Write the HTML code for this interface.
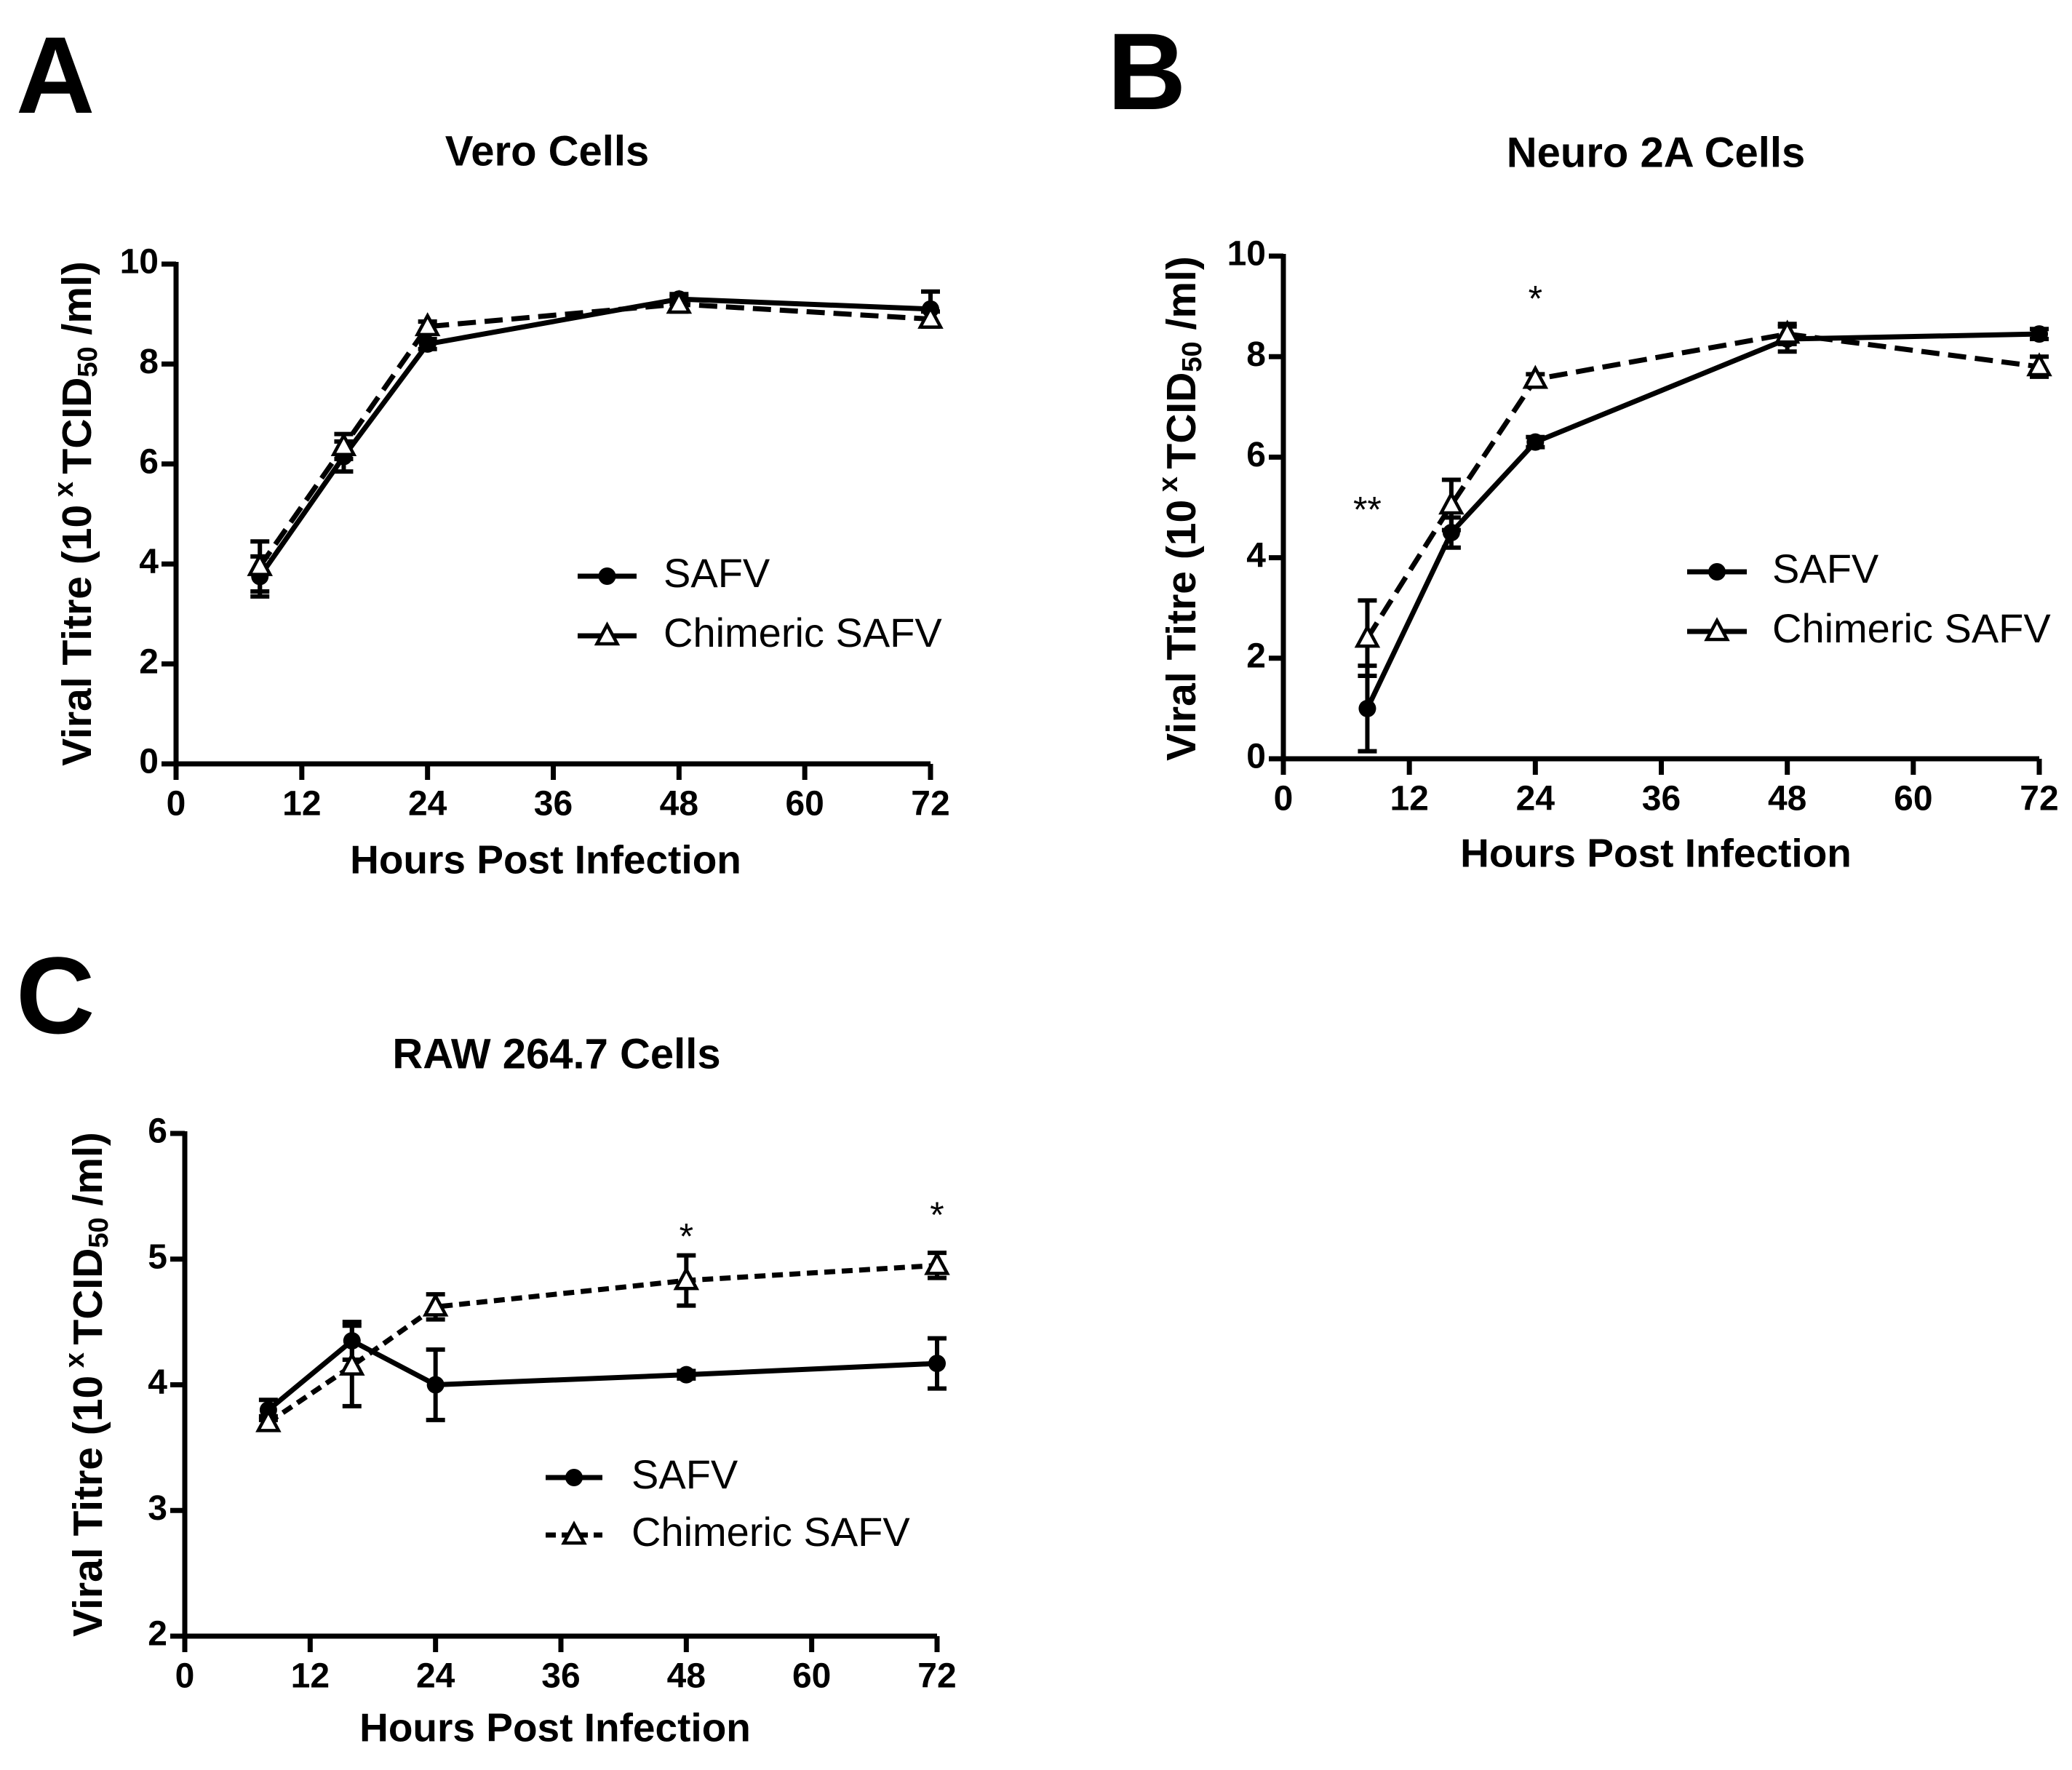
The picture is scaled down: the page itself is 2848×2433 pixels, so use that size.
<!DOCTYPE html>
<html><head><meta charset="utf-8"><style>
html,body{margin:0;padding:0;background:#fff}
svg{display:block}
text{font-family:"Liberation Sans",Arial,sans-serif;fill:#000}
</style></head>
<body>
<svg id="fig" width="2848" height="2433" viewBox="0 0 2848 2433" xmlns="http://www.w3.org/2000/svg">
<rect width="2848" height="2433" fill="#fff"/>
<text x="22" y="155" font-size="150" font-weight="bold">A</text>
<text x="1522" y="150" font-size="150" font-weight="bold">B</text>
<text x="22" y="1420" font-size="150" font-weight="bold">C</text>
</svg>
<script>
const hours = [8, 16, 24, 48, 72];
const xTicks = [0, 12, 24, 36, 48, 60, 72];
const aSafv = [3.75, 6.15, 8.4, 9.3, 9.1];
const aSafvErr = [0.4, 0.3, 0.1, 0.1, 0.35];
const aChim = [3.95, 6.35, 8.75, 9.2, 8.9];
const aChimErr = [0.5, 0.25, 0.1, 0.15, 0.15];
const aTicks = [0, 2, 4, 6, 8, 10];
const bSafv = [1.0, 4.5, 6.3, 8.35, 8.45];
const bSafvErr = [0.85, 0.3, 0.1, 0.25, 0.1];
const bChim = [2.4, 5.05, 7.55, 8.45, 7.8];
const bChimErr = [0.75, 0.5, 0.1, 0.2, 0.2];
const bTicks = [0, 2, 4, 6, 8, 10];
const bStarX = [8, 24];
const bStarY = [4.9, 9.1];
const bStarText = ["**", "*"];
const cSafv = [3.8, 4.35, 4.0, 4.08, 4.17];
const cSafvErr = [0.08, 0.15, 0.28, 0.03, 0.2];
const cChim = [3.7, 4.15, 4.62, 4.83, 4.95];
const cChimErr = [0.05, 0.32, 0.1, 0.2, 0.1];
const cTicks = [2, 3, 4, 5, 6];
const cStarX = [48, 72];
const cStarY = [5.16, 5.33];
const cStarText = ["*", "*"];

const NS = "http://www.w3.org/2000/svg";
const svg = document.getElementById("fig");
function mk(tag, attrs, parent, text) {
  const e = document.createElementNS(NS, tag);
  for (const k in attrs) e.setAttribute(k, attrs[k]);
  if (text !== undefined) e.textContent = text;
  (parent || svg).appendChild(e);
  return e;
}

function panel(p) {
  const g = mk("g", {});
  
  
  const xs = v => p.x0 + (v - 0) / 72 * (p.x1 - p.x0);
  const ys = v => p.y0 - (v - p.ymin) / (p.ymax - p.ymin) * (p.y0 - p.y1);
  const t = mk("text", {x: p.tx, y: p.ty, "font-size": 58, "font-weight": "bold", "text-anchor": "middle", "dominant-baseline": "middle"}, g, p.title);
  
  
  const ax = mk("path", {d: `M${p.x0} ${p.y1-3}V${p.y0}H${p.x1}`, stroke: "#000", "stroke-width": 7, fill: "none"}, g);
  
  
  xTicks.forEach(v => {
    mk("line", {x1: xs(v), x2: xs(v), y1: p.y0, y2: p.y0 + 22, stroke: "#000", "stroke-width": 7}, g);
    const l = mk("text", {x: xs(v), y: p.y0 + 58, "font-size": 48, "font-weight": "bold", "text-anchor": "middle", "dominant-baseline": "middle"}, g, String(v));
    
    
  });
  p.yTicks.forEach(v => {
    mk("line", {x1: p.x0 - 20, x2: p.x0, y1: ys(v), y2: ys(v), stroke: "#000", "stroke-width": 7}, g);
    const l = mk("text", {x: p.x0 - 24, y: ys(v), "font-size": 48, "font-weight": "bold", "text-anchor": "end", "dominant-baseline": "middle"}, g, String(v));
    
    
  });
  const xt = mk("text", {x: p.axtx, y: p.axty, "font-size": 55, "font-weight": "bold", "text-anchor": "middle", "dominant-baseline": "middle"}, g, "Hours Post Infection");
  
  
  const yt = mk("text", {transform: `translate(${p.aytx},${p.ayty}) rotate(-90)`, "font-size": 57, "font-weight": "bold", "text-anchor": "middle", "dominant-baseline": "middle"}, g);
  
  
  mk("tspan", {}, yt, "Viral Titre (10");
  mk("tspan", {dy: -20, "font-size": 38}, yt, " x ");
  mk("tspan", {dy: 20}, yt, " TCID");
  mk("tspan", {dy: 13, "font-size": 38}, yt, "50");
  mk("tspan", {dy: -13}, yt, " /ml)");

  const series = [
    {vals: p.safv, err: p.safvErr, dash: "none", tri: false, name: "safv"},
    {vals: p.chim, err: p.chimErr, dash: p.dash, tri: true, name: "chimeric-safv"}
  ];
  series.forEach(s => {
    const sg = mk("g", {}, g);
    
    
    const d = hours.map((h, i) => (i ? "L" : "M") + xs(h) + " " + ys(s.vals[i])).join("");
    mk("path", {d, stroke: "#000", "stroke-width": 7, fill: "none", "stroke-dasharray": s.dash}, sg);
    hours.forEach((h, i) => {
      const x = xs(h), yT = ys(s.vals[i] + s.err[i]), yB = ys(s.vals[i] - s.err[i]);
      const eb = mk("path", {d: `M${x} ${yT}V${yB}M${x-13} ${yT}H${x+13}M${x-13} ${yB}H${x+13}`, stroke: "#000", "stroke-width": 6, fill: "none"}, sg);
      
      
      const y = ys(s.vals[i]);
      let m;
      if (s.tri) m = mk("path", {d: `M${x} ${y-15}L${x+14} ${y+11}L${x-14} ${y+11}Z`, fill: "#fff", stroke: "#000", "stroke-width": 4.5}, sg);
      else m = mk("circle", {cx: x, cy: y, r: 12, fill: "#000"}, sg);
      
      
    });
  });
  (p.starX || []).forEach((h, i) => {
    const st = mk("text", {x: xs(h), y: ys(p.starY[i]), "font-size": 50, "text-anchor": "middle", "dominant-baseline": "middle"}, g, p.starText[i]);
    
    
  });
  const lg = mk("g", {}, g);
  
  
  [["SAFV", false], ["Chimeric SAFV", true]].forEach((e, i) => {
    const y = p.ly[i];
    const eg = mk("g", {}, lg);
    
    
    mk("line", {x1: p.lx0, x2: p.lx1, y1: y, y2: y, stroke: "#000", "stroke-width": 7, "stroke-dasharray": e[1] && p.dash !== "25 12" ? "14 8" : "none"}, eg);
    const mx = (p.lx0 + p.lx1) / 2;
    if (e[1]) mk("path", {d: `M${mx} ${y-15}L${mx+14} ${y+11}L${mx-14} ${y+11}Z`, fill: "#fff", stroke: "#000", "stroke-width": 4.5}, eg);
    else mk("circle", {cx: mx, cy: y, r: 12, fill: "#000"}, eg);
    mk("text", {x: p.ltx, y: y, "font-size": 56, "dominant-baseline": "middle"}, eg, e[0]);
  });
}

panel({name: "panel-a-vero", title: "Vero Cells", tx: 752, ty: 212,
  x0: 242, x1: 1279, y0: 1050, y1: 363, ymin: 0, ymax: 10, yTicks: aTicks,
  safv: aSafv, safvErr: aSafvErr, chim: aChim, chimErr: aChimErr, dash: "25 12",
  axtx: 750, axty: 1186, aytx: 110, ayty: 706,
  lx0: 794, lx1: 875, ly: [792, 874], ltx: 912});
panel({name: "panel-b-neuro2a", title: "Neuro 2A Cells", tx: 2276, ty: 214,
  x0: 1764, x1: 2803, y0: 1043, y1: 352, ymin: 0, ymax: 10, yTicks: bTicks,
  safv: bSafv, safvErr: bSafvErr, chim: bChim, chimErr: bChimErr, dash: "25 12",
  starX: bStarX, starY: bStarY, starText: bStarText,
  axtx: 2276, axty: 1177, aytx: 1628, ayty: 699,
  lx0: 2319, lx1: 2401, ly: [786, 868], ltx: 2436});
panel({name: "panel-c-raw2647", title: "RAW 264.7 Cells", tx: 765, ty: 1453,
  x0: 254, x1: 1288, y0: 2249, y1: 1558, ymin: 2, ymax: 6, yTicks: cTicks,
  safv: cSafv, safvErr: cSafvErr, chim: cChim, chimErr: cChimErr, dash: "15 9",
  starX: cStarX, starY: cStarY, starText: cStarText,
  axtx: 763, axty: 2379, aytx: 125, ayty: 1903,
  lx0: 750, lx1: 828, ly: [2031, 2110], ltx: 868});
</script>
</body></html>
